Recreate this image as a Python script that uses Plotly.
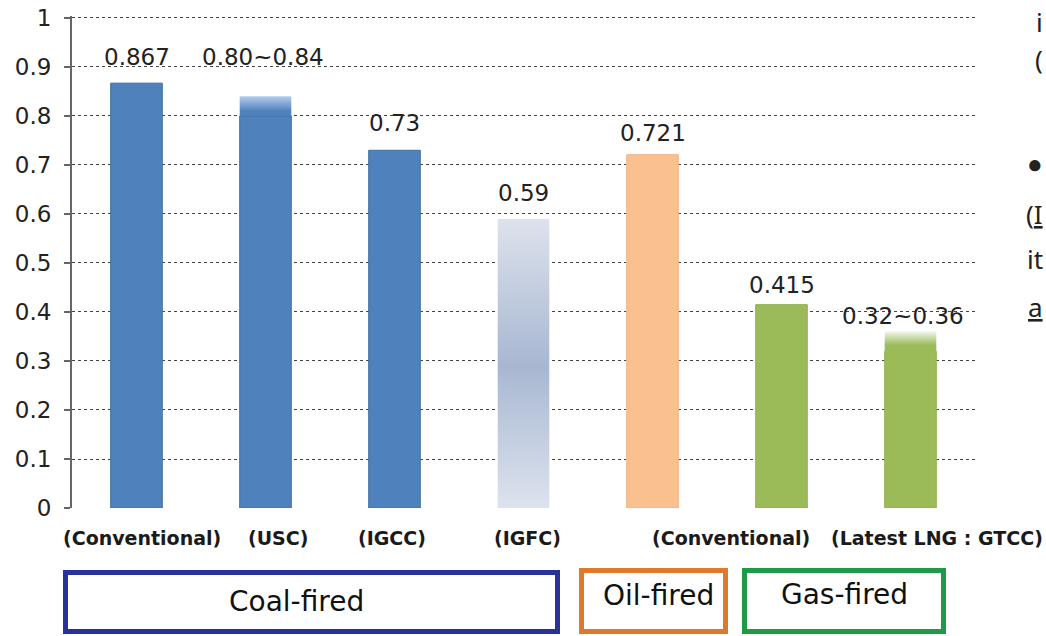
import plotly.graph_objects as go

# ---------------- data ----------------
categories = ["(Conventional)", "(USC)", "(IGCC)", "(IGFC)", "", "(Conventional)", "(Latest LNG : GTCC)"]
value_low = [0.867, 0.80, 0.73, 0.59, 0.721, 0.415, 0.32]
value_high = [0.867, 0.84, 0.73, 0.59, 0.721, 0.415, 0.36]
value_labels = ["0.867", "0.80~0.84", "0.73", "0.59", "0.721", "0.415", "0.32~0.36"]
group_names = ["Coal-fired", "Oil-fired", "Gas-fired"]
y_ticks = [0, 0.1, 0.2, 0.3, 0.4, 0.5, 0.6, 0.7, 0.8, 0.9, 1]
y_tick_labels = ["0", "0.1", "0.2", "0.3", "0.4", "0.5", "0.6", "0.7", "0.8", "0.9", "1"]
edge_fragments = ["i", "(", "●", "(<u>I</u>", "it", "<u>a</u>"]

# ---------------- style ----------------
OFF = 0  # page body margin (removed by post_script below)
Y_TOP = 1.004  # small headroom so the gridline/label at 1 is kept
W, H = 1046 - OFF, 636 - OFF
PX_PER_UNIT = 490
ML = 72 - OFF
PW = 903
PH = round(PX_PER_UNIT * Y_TOP)
MT = 18 - OFF - (PH - PX_PER_UNIT)
MR = W - ML - PW
MB = H - MT - PH
BAR_W = 0.40
Y0_PAGE = 508  # page pixel row of y = 0

BLUE = "#4f81bd"
ORANGE = "#fac090"
GREEN = "#9bbb59"
bar_colors = [BLUE, BLUE, BLUE, "rgba(0,0,0,0)", ORANGE, GREEN, GREEN]
bar_line_colors = ["#41709f", "#41709f", "#41709f", "rgba(0,0,0,0)", "#f0b585", "#93b152", "#93b152"]
# gradient overlays: category index -> colorscale (bottom -> top)
gradients = {
    1: [[0, BLUE], [0.25, BLUE], [1, "#b6cdec"]],
    3: [[0, "#dde3ee"], [0.49, "#a8b7d1"], [1, "#dde2ec"]],
    6: [[0, GREEN], [0.3, GREEN], [1, "#f0f5e8"]],
}
label_yshift = [26, 39, 27, 26, 22, 20, 16]
label_xshift = [0, -3, 0, 0, 0, 0, -8]
cat_xshift = [5, 12, -3, 4, 0, -51, 26]

group_boxes_px = [  # x0, y0, x1, y1 in page pixels
    (65.5, 572.5, 557.5, 631.5),
    (581.5, 570.5, 725.5, 631.5),
    (744.5, 570.5, 943.5, 631.5),
]
group_colors = ["#27339a", "#e07a2a", "#1f9a47"]
group_text_px = [(296, 601), (658, 595), (844, 594)]
fragment_px = [(1045, 22), (1045, 59), (1045, 163), (1045, 214), (1045, 259), (1045, 307)]


def px_x(px):
    return (px - OFF - ML) / PW


def px_y(py):
    return (Y0_PAGE - py) / PH


NUM_FONT = dict(family="DejaVu Sans", size=23, color="#222222")

x_idx = list(range(len(categories)))

fig = go.Figure()
fig.add_trace(go.Bar(
    x=x_idx, y=value_low, width=BAR_W,
    marker=dict(color=bar_colors, line=dict(color=bar_line_colors, width=1)),
    hoverinfo="skip", showlegend=False,
))

for i, cs in gradients.items():
    base = 0 if value_low[i] == value_high[i] else value_low[i]
    top = value_high[i]
    xl, xr = x_idx[i] - BAR_W / 2, x_idx[i] + BAR_W / 2
    fig.add_trace(go.Scatter(
        x=[xl, xr, xr, xl, xl], y=[base, base, top, top, base], mode="lines", fill="toself",
        line=dict(width=0, color="rgba(0,0,0,0)"),
        fillgradient=dict(type="vertical", colorscale=cs),
        hoverinfo="skip", showlegend=False,
    ))

annotations = []
for i, txt in enumerate(value_labels):
    annotations.append(dict(
        x=x_idx[i], y=value_high[i], xref="x", yref="y", text=txt, showarrow=False,
        xanchor="center", yanchor="middle", yshift=label_yshift[i], xshift=label_xshift[i],
        font=NUM_FONT,
    ))
for i, txt in enumerate(categories):
    if not txt:
        continue
    annotations.append(dict(
        x=x_idx[i], y=0, xref="x", yref="y", text=txt, showarrow=False,
        xanchor="center", yanchor="middle", yshift=-30, xshift=cat_xshift[i],
        font=dict(family="DejaVu Sans", size=19, color="#1a1a1a", weight="bold"),
    ))
for name, (tx, ty) in zip(group_names, group_text_px):
    annotations.append(dict(
        x=px_x(tx), y=px_y(ty), xref="paper", yref="paper", text=name, showarrow=False,
        xanchor="center", yanchor="middle",
        font=dict(family="DejaVu Sans", size=28, color="#111111"),
    ))
for txt, (fx, fy) in zip(edge_fragments, fragment_px):
    annotations.append(dict(
        x=px_x(fx), y=px_y(fy), xref="paper", yref="paper", text=txt, showarrow=False,
        xanchor="right", yanchor="middle",
        font=dict(family="Noto Sans", size=26, color="#222222"),
    ))

shapes = []
for (x0, y0, x1, y1), c in zip(group_boxes_px, group_colors):
    shapes.append(dict(
        type="rect", xref="paper", yref="paper",
        x0=px_x(x0), x1=px_x(x1), y0=px_y(y1), y1=px_y(y0),
        line=dict(color=c, width=5), fillcolor="white", layer="below",
    ))

fig.update_layout(
    width=W, height=H,
    margin=dict(l=ML, r=MR, t=MT, b=MB, autoexpand=False),
    paper_bgcolor="white", plot_bgcolor="white",
    showlegend=False,
    annotations=annotations, shapes=shapes,
    xaxis=dict(range=[-0.5, len(categories) - 0.5], showgrid=False, zeroline=False,
               showline=False, showticklabels=False, ticks="", fixedrange=True),
    yaxis=dict(range=[0, Y_TOP], tickvals=y_ticks, ticktext=y_tick_labels,
               showgrid=True, gridcolor="#444444", griddash="dot", gridwidth=1,
               zeroline=False, showline=True, linecolor="#666666", linewidth=2,
               ticks="outside", ticklen=6, tickcolor="#666666", tickwidth=2,
               ticklabelstandoff=8, ticklabeloverflow="allow",
               tickfont=NUM_FONT, fixedrange=True),
)

fig.write_html(
    "out.html",
    config={"displayModeBar": False},
    post_script="document.body.style.margin='0';document.body.style.overflow='hidden';",
)
